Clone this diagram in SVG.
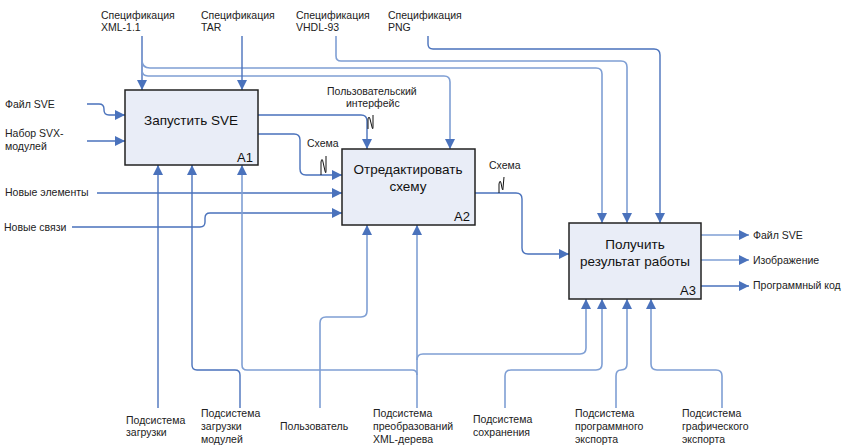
<svg xmlns="http://www.w3.org/2000/svg" width="842" height="446" viewBox="0 0 842 446">
<defs>
<marker id="arr" markerUnits="userSpaceOnUse" markerWidth="12" markerHeight="10" refX="10" refY="5" orient="auto">
<path d="M0,0 L10,5 L0,10 Z" fill="#4A72BC"/>
</marker>
<style>
.c{fill:none;stroke:#4A72BC;stroke-width:1.4}
.l{fill:none;stroke:#7F9FD4;stroke-width:1.6}
.a{marker-end:url(#arr)}
.box{fill:#E9EDF7;stroke:#222;stroke-width:1.5}
.t{font-family:"Liberation Sans",Arial,sans-serif;font-size:10.5px;fill:#222}
.bt{font-family:"Liberation Sans",Arial,sans-serif;font-size:13.5px;fill:#111;text-anchor:middle}
.id{font-family:"Liberation Sans",Arial,sans-serif;font-size:13px;fill:#111;text-anchor:end}
.sq{fill:none;stroke:#111;stroke-width:1}
</style>
</defs>
<rect width="842" height="446" fill="#fff"/>

<g id="connectors">
<!-- inputs -->
<path class="c a" d="M87,104 L99,104 Q104,104 104,109 L104,110 Q104,115 109,115 L125,115"/>
<path class="c a" d="M87,141 L125,141"/>
<path class="c a" d="M97,193 L342,193"/>
<path class="c a" d="M72,227 L200,227 Q205,227 205,222 L205,218 Q205,213 210,213 L342,213"/>
<!-- controls -->
<path class="c a" d="M142,36 L142,90"/>
<path class="l a" d="M142,60 Q142,68 150,68 L596,68 Q602,68 602,74 L602,223"/>
<path class="l a" d="M142,70 Q142,76 148,76 L444,76 Q450,76 450,82 L450,149"/>
<path class="c a" d="M242,36 L242,90"/>
<path class="l a" d="M336,36 L336,56 Q336,61 341,61 L621,61 Q627,61 627,67 L627,223"/>
<path class="c a" d="M428,36 L428,44 Q428,49 433,49 L654,49 Q660,49 660,55 L660,223"/>
<!-- internal -->
<path class="c a" d="M258,115 L361,115 Q367,115 367,121 L367,149"/>
<path class="c a" d="M258,134 L294,134 Q300,134 300,140 L300,169 Q300,175 306,175 L342,175"/>
<path class="c a" d="M475,193 L516,193 Q522,193 522,199 L522,248 Q522,254 528,254 L569,254"/>
<!-- outputs -->
<path class="l a" d="M701,235 L749,235"/>
<path class="l a" d="M701,260 L749,260"/>
<path class="c a" d="M701,286 L749,286"/>
<!-- mechanisms -->
<path class="c a" d="M158,408 L158,165"/>
<path class="c a" d="M240,408 L240,375 Q240,370 235,370 L197,370 Q192,370 192,365 L192,165"/>
<path class="l a" d="M417,408 L417,225"/>
<path class="l a" d="M417,375 Q417,370 412,370 L247,370 Q242,370 242,365 L242,165"/>
<path class="l a" d="M417,360 Q417,354 423,354 L580,354 Q586,354 586,348 L586,299"/>
<path class="l a" d="M320,408 L320,323 Q320,317 326,317 L361,317 Q367,317 367,311 L367,225"/>
<path class="l a" d="M505,408 L505,376 Q505,370 511,370 L596,370 Q602,370 602,364 L602,299"/>
<path class="l a" d="M616,408 L616,376 Q616,370 621,370 Q627,370 627,364 L627,299"/>
<path class="l a" d="M722,408 L722,376 Q722,370 716,370 L657,370 Q651,370 651,364 L651,299"/>
<!-- squiggles -->
<path class="sq" d="M368,129 L368,119 Q369,115 370,119 L372,127 Q373,131 373,126 L373,115"/>
<path class="sq" d="M321,175 L321,162 Q322,157 323,162 L325,171 Q326,175 326,170 L326,156"/>
<path class="sq" d="M499,193 L499,184 Q500,179 501,183 L502,188 Q503,192 503,188 L504,177"/>
</g>

<g id="A1">
<rect class="box" x="125" y="90" width="133" height="75"/>
<text class="bt" x="191" y="125">Запустить SVE</text>
<text class="id" x="253" y="162">A1</text>
</g>
<g id="A2">
<rect class="box" x="342" y="149" width="133" height="76"/>
<text class="bt" x="408" y="174">Отредактировать</text>
<text class="bt" x="408" y="191">схему</text>
<text class="id" x="470" y="221">A2</text>
</g>
<g id="A3">
<rect class="box" x="569" y="223" width="132" height="76"/>
<text class="bt" x="635" y="249">Получить</text>
<text class="bt" x="635" y="266">результат работы</text>
<text class="id" x="696" y="295">A3</text>
</g>

<g id="labels">
<text class="t" x="101" y="19">Спецификация</text>
<text class="t" x="101" y="31">XML-1.1</text>
<text class="t" x="201" y="19">Спецификация</text>
<text class="t" x="201" y="31">TAR</text>
<text class="t" x="296" y="19">Спецификация</text>
<text class="t" x="296" y="31">VHDL-93</text>
<text class="t" x="388" y="19">Спецификация</text>
<text class="t" x="388" y="31">PNG</text>

<text class="t" x="5" y="108">Файл SVE</text>
<text class="t" x="5" y="137">Набор SVX-</text>
<text class="t" x="5" y="150">модулей</text>
<text class="t" x="5" y="196">Новые элементы</text>
<text class="t" x="4" y="231">Новые связи</text>

<text class="t" x="327" y="95">Пользовательский</text>
<text class="t" x="346" y="107">интерфейс</text>
<text class="t" x="307" y="147">Схема</text>
<text class="t" x="489" y="169">Схема</text>

<text class="t" x="753" y="239">Файл SVE</text>
<text class="t" x="753" y="264">Изображение</text>
<text class="t" x="753" y="289">Программный код</text>

<text class="t" x="126" y="424">Подсистема</text>
<text class="t" x="126" y="436">загрузки</text>
<text class="t" x="201" y="417">Подсистема</text>
<text class="t" x="201" y="430">загрузки</text>
<text class="t" x="201" y="443">модулей</text>
<text class="t" x="280" y="430">Пользователь</text>
<text class="t" x="373" y="417">Подсистема</text>
<text class="t" x="373" y="430">преобразований</text>
<text class="t" x="373" y="443">XML-дерева</text>
<text class="t" x="473" y="423">Подсистема</text>
<text class="t" x="473" y="436">сохранения</text>
<text class="t" x="575" y="417">Подсистема</text>
<text class="t" x="575" y="430">программного</text>
<text class="t" x="575" y="443">экспорта</text>
<text class="t" x="682" y="417">Подсистема</text>
<text class="t" x="682" y="430">графического</text>
<text class="t" x="682" y="443">экспорта</text>
</g>
</svg>
